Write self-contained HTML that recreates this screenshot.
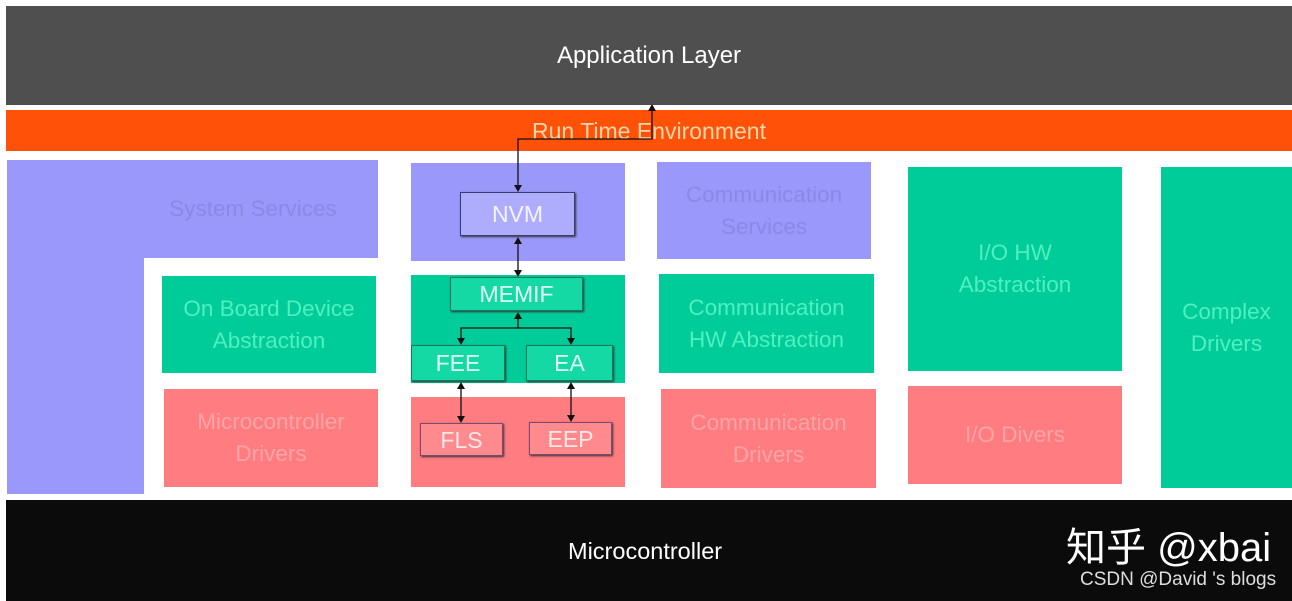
<!DOCTYPE html>
<html><head><meta charset="utf-8"><style>
body{margin:0;width:1292px;height:601px;background:#fff;position:relative;overflow:hidden;font-family:"Liberation Sans","Noto Sans CJK SC",sans-serif}
.b{position:absolute;display:flex;align-items:center;justify-content:center;text-align:center;font-size:22.5px;line-height:32px}
.p{background:#9a99fb;color:#8a89e6}
.g{background:#00cc99;color:#4ff0c0}
.r{background:#ff7c80;color:#ffa4a6}
.s{box-shadow:1px 1px 2px #333;border:1px solid #3a3a70;box-sizing:border-box;font-size:23px}
.sg{background:#14d9a5;color:#e0fff4;border-color:#137a60}
.sp{background:#aeadfd;color:#f4f4ff}
.sr{background:#ff8a8e;color:#ffe6e6;border-color:#7a4a70}
</style></head><body>
<div class="b" style="left:6px;top:6px;width:1286px;height:99px;background:#4f4f4f;color:#fff;font-size:24px">Application Layer</div>
<div class="b" style="left:6px;top:110px;width:1286px;height:41px;background:#ff5208;color:#ffd6a8;font-size:23px">Run Time Environment</div>
<div class="p" style="position:absolute;left:7px;top:160px;width:371px;height:98px"></div>
<div class="p" style="position:absolute;left:7px;top:160px;width:137px;height:334px"></div>
<div class="b" style="left:144px;top:160px;width:218px;height:98px;color:#8a89e6">System Services</div>
<div class="b g" style="left:162px;top:276px;width:214px;height:97px">On Board Device<br>Abstraction</div>
<div class="b r" style="left:164px;top:389px;width:214px;height:98px">Microcontroller<br>Drivers</div>
<div class="b p" style="left:411px;top:163px;width:214px;height:98px"></div>
<div class="b g" style="left:411px;top:275px;width:214px;height:108px"></div>
<div class="b r" style="left:411px;top:397px;width:214px;height:90px"></div>
<div class="b s sp" style="left:460px;top:192px;width:115px;height:44px">NVM</div>
<div class="b s sg" style="left:450px;top:277px;width:133px;height:34px">MEMIF</div>
<div class="b s sg" style="left:411px;top:345px;width:94px;height:36px">FEE</div>
<div class="b s sg" style="left:526px;top:345px;width:87px;height:36px">EA</div>
<div class="b s sr" style="left:420px;top:423px;width:83px;height:33px">FLS</div>
<div class="b s sr" style="left:529px;top:422px;width:83px;height:33px">EEP</div>
<div class="b p" style="left:657px;top:162px;width:214px;height:97px">Communication<br>Services</div>
<div class="b g" style="left:659px;top:274px;width:215px;height:99px">Communication<br>HW Abstraction</div>
<div class="b r" style="left:661px;top:389px;width:215px;height:99px">Communication<br>Drivers</div>
<div class="b g" style="left:908px;top:167px;width:214px;height:204px">I/O HW<br>Abstraction</div>
<div class="b r" style="left:908px;top:386px;width:214px;height:98px">I/O Divers</div>
<div class="b g" style="left:1161px;top:167px;width:131px;height:321px">Complex<br>Drivers</div>
<div class="b" style="left:6px;top:500px;width:1286px;height:101px;background:#0b0b0b;color:#fff;font-size:23.5px;justify-content:flex-start;padding-left:562px;box-sizing:border-box">Microcontroller</div>
<div style="position:absolute;left:1066px;top:525px;color:#fff;font-size:40px;line-height:46px">知乎 @xbai</div>
<div style="position:absolute;left:1080px;top:569px;color:#ddd;font-size:19px;line-height:22px">CSDN @David 's blogs</div>
<svg width="1292" height="601" style="position:absolute;left:0;top:0">
<g stroke="#111" stroke-width="1.3" fill="none">
<polyline points="652,110 652,139 518,139 518,186"/>
<line x1="518" y1="242" x2="518" y2="272"/>
<line x1="518" y1="318" x2="518" y2="328"/>
<polyline points="461,340 461,328 571,328 571,340"/>
<line x1="461" y1="387" x2="461" y2="418"/>
<line x1="571" y1="387" x2="571" y2="417"/>
</g>
<g fill="#111">
<polygon points="652,104 648,111 656,111"/>
<polygon points="518,192 514,185 522,185"/>
<polygon points="518,237 514,244 522,244"/>
<polygon points="518,277 514,270 522,270"/>
<polygon points="518,312 514,319 522,319"/>
<polygon points="461,345 457,338 465,338"/>
<polygon points="571,345 567,338 575,338"/>
<polygon points="461,382 457,389 465,389"/>
<polygon points="461,423 457,416 465,416"/>
<polygon points="571,382 567,389 575,389"/>
<polygon points="571,422 567,415 575,415"/>
</g>
</svg>
</body></html>
